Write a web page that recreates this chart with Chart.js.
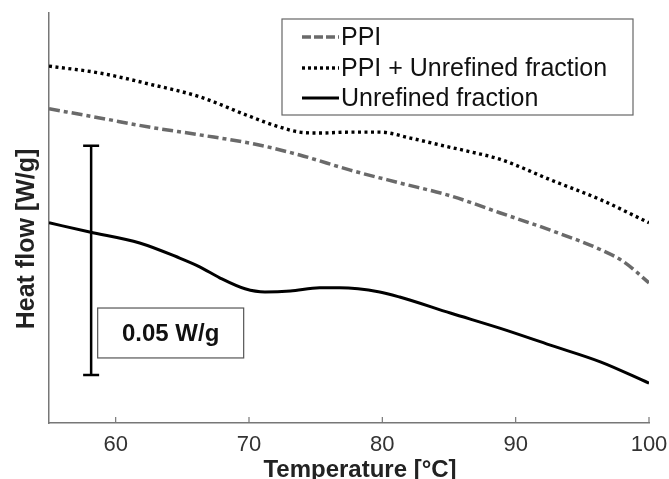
<!DOCTYPE html>
<html>
<head>
<meta charset="utf-8">
<script src="https://cdn.jsdelivr.net/npm/chart.js@4.4.0/dist/chart.umd.min.js"></script>
<style>
  html, body { margin: 0; padding: 0; background: #fff; }
  #wrap { width: 669px; height: 479px; }
</style>
</head>
<body>
<div id="wrap"><canvas id="grafico" width="669" height="479"></canvas></div>
<script>
// Datos (temperatura en °C, flujo de calor en W/g, origen arbitrario)
const tempPPI = [55, 58.8, 62.5, 66.3, 70.4, 73.8, 77.6, 81.3, 85.1, 88.8, 92.6, 96.4, 98.1, 100];
const flujoPPI = [0.0686, 0.0666, 0.0646, 0.0629, 0.0609, 0.0585, 0.0552, 0.0524, 0.0496, 0.0459, 0.0421, 0.0378, 0.0352, 0.0306];

const tempMezcla = [55, 58.8, 62.5, 66.3, 70, 72.3, 73.8, 75.3, 77.6, 79.8, 82.1, 84.3, 86.6, 88.8, 92.6, 96.4, 100];
const flujoMezcla = [0.0779, 0.0764, 0.0740, 0.0712, 0.0670, 0.0646, 0.0635, 0.0633, 0.0635, 0.0635, 0.0622, 0.0607, 0.0592, 0.0576, 0.0531, 0.0487, 0.0437];

const tempFraccion = [55, 58.05, 61.8, 64.8, 66.3, 67.8, 69.7, 71.2, 73.1, 75.3, 76.8, 79.8, 81.3, 85.1, 88.8, 92.6, 96.4, 100];
const flujoFraccion = [0.0437, 0.0417, 0.0393, 0.0360, 0.0341, 0.0317, 0.0293, 0.0286, 0.0288, 0.0295, 0.0295, 0.0286, 0.0275, 0.0240, 0.0207, 0.0170, 0.0133, 0.0087];

const etiquetas = ["PPI", "PPI + Unrefined fraction", "Unrefined fraction"];
const ticksX = [60, 70, 80, 90, 100];

// Barra de escala de 0.05 W/g
const barraTemp = 58.16;
const barraFlujo = [0.0105, 0.0605];
const cajaTemp = [58.65, 69.6];
const cajaFlujo = [0.0142, 0.0251];
const textoBarra = "0.05 W/g";

const FUENTE = "'Liberation Sans', Arial, Helvetica, sans-serif";

const puntos = (xs, ys) => xs.map((x, i) => ({ x: x, y: ys[i] }));

const estilos = [
    { color: "#6a6a6a", dash: [11, 4, 4, 4], ancho: 3.5, dashLeyenda: [9, 3] },
    { color: "#000000", dash: [3, 3.5], ancho: 3.4, dashLeyenda: [3, 3] },
    { color: "#000000", dash: [], ancho: 3, dashLeyenda: [] }
];

// Dibuja leyenda, barra de escala, marcas de eje y titulos
const extras = {
    id: "extras",
    afterDatasetsDraw(chart) {
        const ctx = chart.ctx;
        const sx = chart.scales.x;
        const sy = chart.scales.y;
        const area = chart.chartArea;
        ctx.save();

        // marcas del eje x hacia adentro
        ctx.strokeStyle = "#777";
        ctx.lineWidth = 1.2;
        ticksX.forEach(t => {
            const px = sx.getPixelForValue(t);
            ctx.beginPath();
            ctx.moveTo(px, area.bottom);
            ctx.lineTo(px, area.bottom - 6);
            ctx.stroke();
        });

        // barra de escala
        const bx = sx.getPixelForValue(barraTemp);
        const by0 = sy.getPixelForValue(barraFlujo[0]);
        const by1 = sy.getPixelForValue(barraFlujo[1]);
        ctx.strokeStyle = "#000";
        ctx.lineWidth = 2.5;
        ctx.beginPath();
        ctx.moveTo(bx, by0); ctx.lineTo(bx, by1);
        ctx.moveTo(bx - 8, by0); ctx.lineTo(bx + 8, by0);
        ctx.moveTo(bx - 8, by1); ctx.lineTo(bx + 8, by1);
        ctx.stroke();

        // caja con el texto de la escala
        const cx0 = sx.getPixelForValue(cajaTemp[0]);
        const cx1 = sx.getPixelForValue(cajaTemp[1]);
        const cy0 = sy.getPixelForValue(cajaFlujo[1]);
        const cy1 = sy.getPixelForValue(cajaFlujo[0]);
        ctx.fillStyle = "#fff";
        ctx.fillRect(cx0, cy0, cx1 - cx0, cy1 - cy0);
        ctx.strokeStyle = "#555";
        ctx.lineWidth = 1.2;
        ctx.strokeRect(cx0, cy0, cx1 - cx0, cy1 - cy0);
        ctx.fillStyle = "#111";
        ctx.font = "bold 24px " + FUENTE;
        ctx.textAlign = "center";
        ctx.textBaseline = "middle";
        ctx.fillText(textoBarra, (cx0 + cx1) / 2, (cy0 + cy1) / 2 + 1);

        // leyenda
        const lx = 282, ly = 19, lw = 351, lh = 96;
        ctx.fillStyle = "#fff";
        ctx.fillRect(lx, ly, lw, lh);
        ctx.strokeStyle = "#666";
        ctx.lineWidth = 1.2;
        ctx.strokeRect(lx, ly, lw, lh);
        const filas = [37, 68, 98];
        ctx.font = "25px " + FUENTE;
        ctx.textAlign = "left";
        etiquetas.forEach((txt, i) => {
            const e = estilos[i];
            ctx.strokeStyle = e.color;
            ctx.lineWidth = e.ancho;
            ctx.setLineDash(e.dashLeyenda);
            ctx.beginPath();
            ctx.moveTo(302, filas[i]);
            ctx.lineTo(339, filas[i]);
            ctx.stroke();
            ctx.setLineDash([]);
            ctx.fillStyle = "#111";
            ctx.fillText(txt, 341, filas[i] + 1);
        });

        // titulos de ejes
        ctx.fillStyle = "#222";
        ctx.font = "bold 24px " + FUENTE;
        ctx.textAlign = "center";
        ctx.textBaseline = "alphabetic";
        ctx.fillText("Temperature [°C]", 360, 477);
        ctx.translate(34, 239);
        ctx.rotate(-Math.PI / 2);
        ctx.font = "bold 25px " + FUENTE;
        ctx.fillText("Heat flow [W/g]", 0, 0);
        ctx.restore();
    }
};

const ctx = document.getElementById("grafico").getContext("2d");
new Chart(ctx, {
    type: "line",
    data: {
        datasets: [
            { label: etiquetas[0], data: puntos(tempPPI, flujoPPI) },
            { label: etiquetas[1], data: puntos(tempMezcla, flujoMezcla) },
            { label: etiquetas[2], data: puntos(tempFraccion, flujoFraccion) }
        ].map((d, i) => Object.assign(d, {
            borderColor: estilos[i].color,
            borderWidth: estilos[i].ancho,
            borderDash: estilos[i].dash,
            pointRadius: 0,
            fill: false,
            cubicInterpolationMode: "monotone"
        }))
    },
    options: {
        responsive: false,
        animation: false,
        devicePixelRatio: 1,
        layout: { padding: { left: 0, top: 13, right: 20, bottom: 0 } },
        plugins: { legend: { display: false }, tooltip: { enabled: false } },
        scales: {
            x: {
                type: "linear",
                min: 55,
                max: 100,
                afterBuildTicks: s => { s.ticks = ticksX.map(v => ({ value: v })); },
                afterFit: s => { s.height = 56; s.paddingLeft = 0; s.paddingRight = 0; },
                grid: { display: false, drawTicks: false },
                border: { display: true, color: "#777", width: 1.5 },
                ticks: { padding: 9, color: "#333", font: { family: FUENTE, size: 22 } }
            },
            y: {
                min: 0,
                max: 0.0895,
                afterFit: s => { s.width = 49; s.paddingTop = 0; s.paddingBottom = 0; },
                grid: { display: false, drawTicks: false },
                border: { display: true, color: "#777", width: 1.5 },
                ticks: { display: false }
            }
        }
    },
    plugins: [extras]
});
</script>
</body>
</html>
